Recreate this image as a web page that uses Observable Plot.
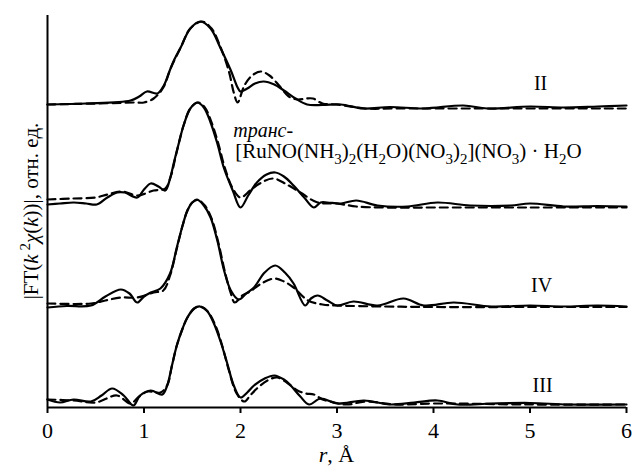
<!DOCTYPE html>
<html><head><meta charset="utf-8">
<script src="https://cdn.jsdelivr.net/npm/d3@7"></script>
<script src="https://cdn.jsdelivr.net/npm/@observablehq/plot@0.6"></script>
<style>body{margin:0;background:#fff} svg{display:block}</style>
</head><body><div id="chart"></div>
<script>
// r, Å  and |FT| (relative units, vertically offset curves)
const II_exp_r = [0,0.4,0.86,0.95,1.03,1.14,1.205,1.275,1.31,1.38,1.48,1.585,1.69,1.79,1.9,1.97,2.0,2.07,2.15,2.24,2.35,2.45,2.57,2.69,2.85,3.04,3.27,3.55,3.9,4.31,4.56,5.0,5.35,5.7,6.0];
const II_exp_v = [30.3,30.4,30.7,31.1,31.6,31.4,32.2,33.9,34.7,36.0,37.9,38.6,37.9,36.0,33.7,32.0,31.6,31.9,32.4,32.6,32.3,31.7,30.9,30.3,30.25,30.3,29.9,30.05,29.9,30.2,29.9,30.1,30.0,30.1,30.2];
const II_fit_r = [0,0.5,0.9,1.0,1.1,1.2,1.275,1.38,1.48,1.6,1.7,1.79,1.88,1.93,1.97,2.04,2.12,2.21,2.3,2.4,2.5,2.59,2.68,2.75,2.85,3.0,3.3,3.6,4.0,4.5,5.0,6.0];
const II_fit_v = [30.3,30.4,30.5,30.5,30.9,32.0,33.9,36.0,37.9,38.6,37.9,36.1,33.6,31.5,30.5,32.2,33.2,33.6,33.2,32.2,31.1,30.8,30.9,30.9,30.4,30.3,29.9,29.9,29.9,29.9,29.9,29.9];

const trans_exp_r = [0,0.13,0.27,0.4,0.51,0.62,0.72,0.8,0.93,1.0,1.07,1.15,1.22,1.27,1.31,1.36,1.41,1.48,1.55,1.62,1.69,1.76,1.83,1.92,2.0,2.08,2.17,2.27,2.36,2.45,2.55,2.66,2.76,2.83,2.9,3.04,3.2,3.42,3.73,4.04,4.38,4.8,5.0,5.35,5.7,6.0];
const trans_exp_v = [20.3,20.4,20.5,20.4,20.3,21.0,21.5,21.5,21.0,21.8,22.4,22.1,21.7,22.9,24.5,26.4,28.2,29.9,30.5,30.0,28.5,26.4,23.9,21.7,20.0,21.2,22.5,23.3,23.5,23.1,22.2,21.0,20.0,20.5,20.5,20.4,20.7,20.2,20.1,20.5,20.2,20.2,20.4,20.1,20.15,20.1];
const trans_fit_r = [0,0.27,0.5,0.62,0.78,0.93,1.1,1.22,1.28,1.33,1.41,1.48,1.56,1.63,1.7,1.77,1.84,1.92,2.0,2.1,2.2,2.34,2.48,2.62,2.8,3.0,3.2,3.5,4.0,5.0,6.0];
const trans_fit_v = [20.8,20.9,21.0,21.3,21.6,21.2,21.7,21.9,23.2,25.2,28.2,29.9,30.5,30.0,28.5,26.4,23.9,21.9,21.0,21.7,22.4,22.9,22.3,21.5,20.5,20.4,20.1,20.0,20.0,20.0,20.0];

const IV_exp_r = [0,0.2,0.45,0.6,0.76,0.85,0.93,1.0,1.07,1.17,1.27,1.34,1.4,1.45,1.5,1.55,1.62,1.69,1.76,1.83,1.9,1.98,2.06,2.14,2.25,2.36,2.46,2.55,2.67,2.73,2.8,2.9,3.0,3.17,3.42,3.69,3.9,4.21,4.6,5.0,5.35,5.7,6.0];
const IV_exp_v = [10.0,10.15,10.2,11.1,11.8,11.4,10.5,11.1,11.5,11.9,13.4,16.0,18.2,19.7,20.5,20.8,20.2,19.0,16.7,13.7,11.7,10.8,11.4,12.0,13.5,14.2,13.5,12.4,10.2,10.9,11.2,10.7,10.2,10.6,10.2,10.9,10.2,10.5,10.1,10.2,10.1,10.2,10.1];
const IV_fit_r = [0,0.45,0.6,0.76,0.93,1.1,1.2,1.27,1.34,1.4,1.45,1.5,1.56,1.63,1.7,1.77,1.84,1.9,1.94,2.02,2.1,2.2,2.35,2.45,2.55,2.7,2.85,3.0,3.5,4.0,5.0,6.0];
const IV_fit_v = [10.4,10.4,10.7,11.0,11.0,11.5,11.7,13.2,15.9,18.2,19.7,20.5,20.75,20.2,18.9,16.5,13.5,11.4,10.5,11.2,11.6,12.3,12.9,12.6,12.0,10.7,10.3,10.2,10.1,10.05,10.05,10.05];

const III_exp_r = [0,0.13,0.27,0.45,0.56,0.67,0.79,0.89,0.96,1.07,1.19,1.24,1.29,1.34,1.4,1.45,1.52,1.58,1.65,1.72,1.79,1.86,1.93,2.0,2.07,2.14,2.25,2.35,2.45,2.52,2.62,2.71,2.83,3.0,3.28,3.55,3.8,4.04,4.25,4.6,5.0,5.4,6.0];
const III_exp_v = [0.8,0.5,0.8,0.6,1.2,1.9,1.2,0.2,1.2,1.7,1.3,2.2,4.2,6.2,7.9,9.0,9.9,10.1,9.7,8.5,6.7,4.5,2.2,1.0,1.5,2.2,2.9,3.2,2.8,2.2,1.1,0.3,0.9,0.4,0.7,0.3,0.5,0.7,0.3,0.4,0.45,0.3,0.3];
const III_fit_r = [0,0.27,0.5,0.72,0.86,0.95,1.04,1.17,1.24,1.29,1.34,1.4,1.45,1.52,1.58,1.66,1.74,1.81,1.88,1.96,2.04,2.1,2.17,2.28,2.38,2.48,2.59,2.68,2.76,2.85,2.93,3.1,3.3,3.6,4.0,5.0,6.0];
const III_fit_v = [0.8,0.7,0.5,1.2,0.4,1.1,1.6,1.5,2.2,4.2,6.2,7.9,9.0,9.9,10.1,9.6,8.2,6.2,3.7,1.4,0.6,1.2,1.9,2.7,3.0,2.5,1.7,1.4,1.3,0.8,0.6,0.3,0.6,0.3,0.4,0.3,0.3];

const xTicks = [0,1,2,3,4,5,6];
const labelNames = ["II","IV","III"];
const labelR = [5.11,5.12,5.13];
const labelV = [32.35,12.2,2.2];

const series = [
  {key:"II-exp", kind:"exp", r:II_exp_r, v:II_exp_v},
  {key:"II-fit", kind:"fit", r:II_fit_r, v:II_fit_v},
  {key:"trans-exp", kind:"exp", r:trans_exp_r, v:trans_exp_v},
  {key:"trans-fit", kind:"fit", r:trans_fit_r, v:trans_fit_v},
  {key:"IV-exp", kind:"exp", r:IV_exp_r, v:IV_exp_v},
  {key:"IV-fit", kind:"fit", r:IV_fit_r, v:IV_fit_v},
  {key:"III-exp", kind:"exp", r:III_exp_r, v:III_exp_v},
  {key:"III-fit", kind:"fit", r:III_fit_r, v:III_fit_v}
];
const rows = series.flatMap(s => s.r.map((r,i) => ({key:s.key, kind:s.kind, r, v:s.v[i]})));
const labels = labelNames.map((t,i) => ({t, r:labelR[i], v:labelV[i]}));

const FONT = "'Liberation Serif','Times New Roman',serif";
const plot = Plot.plot({
  width:633, height:466,
  marginLeft:47, marginRight:7, marginTop:15, marginBottom:59,
  style:{fontFamily:FONT, fontSize:"22px", background:"#fff", color:"#000"},
  x:{domain:[0,6]},
  y:{domain:[0,39.2], axis:null},
  marks:[
    Plot.line(rows.filter(d=>d.kind==="fit"), {x:"r", y:"v", z:"key", stroke:"#000", strokeWidth:2.2, strokeDasharray:"8,5", curve:"catmull-rom"}),
    Plot.line(rows.filter(d=>d.kind==="exp"), {x:"r", y:"v", z:"key", stroke:"#000", strokeWidth:2.2, curve:"catmull-rom"}),
    Plot.ruleX([0], {stroke:"#000", strokeWidth:2}),
    Plot.ruleY([0], {stroke:"#000", strokeWidth:2}),
    Plot.axisX({ticks:xTicks, tickFormat:d3.format("d"), tickSize:6, tickPadding:9, strokeWidth:2, fontSize:22, label:null}),
    Plot.text(labels, {x:"r", y:"v", text:"t", fontSize:20, textAnchor:"middle", lineAnchor:"middle"})
  ]
});
document.getElementById("chart").appendChild(plot);

// rich text (italic, sub/superscripts) positioned through the plot's scales
const svg = d3.select(plot);
const xs = plot.scale("x"), ys = plot.scale("y");
const [y0, y1] = ys.range; const [x0, x1] = xs.range;

function rich(g, parts, small, shift) {
  parts.forEach(p => {
    const t = g.append("tspan").text(p.t);
    if (p.i) t.style("font-style","italic");
    if (p.s) t.attr("font-size", small).attr("dy", p.s * shift);
    if (p.back) t.attr("dy", p.back * shift);
  });
}
// y label
const yl = svg.append("text")
  .attr("transform", `translate(${x0 - 9},${(y0 + y1) / 2}) rotate(-90)`)
  .attr("text-anchor","middle").attr("font-size",21).attr("fill","#000");
rich(yl, [{t:"|FT("},{t:"k",i:1},{t:" 2",s:-1},{t:"χ",i:1,back:1},{t:"("},{t:"k",i:1},{t:"))|, отн. ед."}], 15, 8);

// x label
const xl = svg.append("text").attr("x", (x0 + x1) / 2).attr("y", y0 + 55)
  .attr("text-anchor","middle").attr("font-size",22).attr("fill","#000");
rich(xl, [{t:"r",i:1},{t:", Å"}], 15, 8);

// compound label
svg.append("text").attr("x", xs.apply(1.93)).attr("y", ys.apply(27.0))
  .attr("text-anchor","start").attr("font-size",20).style("font-style","italic").attr("fill","#000").text("транс-");
const fm = svg.append("text").attr("x", xs.apply(1.95)).attr("y", ys.apply(24.9))
  .attr("text-anchor","start").attr("font-size",21).attr("fill","#000");
rich(fm, [
  {t:"[RuNO(NH"},{t:"3",s:1},{t:")",back:-1},{t:"2",s:1},{t:"(H",back:-1},{t:"2",s:1},{t:"O)(NO",back:-1},
  {t:"3",s:1},{t:")",back:-1},{t:"2",s:1},{t:"](NO",back:-1},{t:"3",s:1},{t:") · H",back:-1},{t:"2",s:1},{t:"O",back:-1}
], 15, 6);
</script></body></html>
